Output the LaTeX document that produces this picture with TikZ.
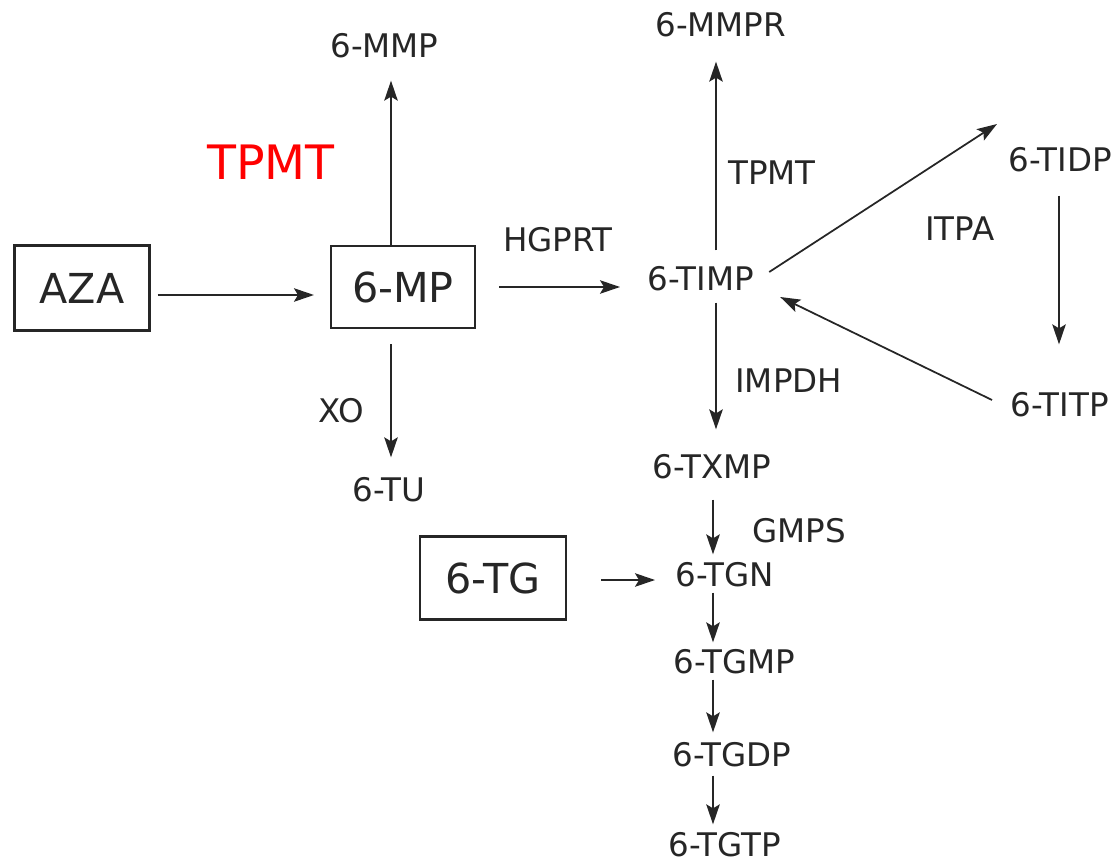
\documentclass[tikz,border=0pt]{standalone}
\usepackage{fontspec}
\setmainfont{DejaVu Sans}
\usetikzlibrary{arrows.meta}
\definecolor{inkgray}{RGB}{38, 38, 38}
\begin{document}
\begin{tikzpicture}[x=0.02cm, y=-0.02cm,
    lbl/.style={anchor=west, inner sep=0pt, text=inkgray, font=\fontsize{18.5}{20}\selectfont},
    drugbox/.style={draw=inkgray, line width=1.2pt, inner sep=0pt, text=inkgray, font=\fontsize{23.5}{26}\selectfont},
    arr/.style={draw=inkgray, line width=1pt, -{Stealth[length=0.4cm, width=0.27cm, inset=0.08cm]}}]
    \useasboundingbox (0,0) rectangle (1118,868);
    % drugs
    \node[drugbox, minimum width=2.7cm, minimum height=1.7cm] (aza) at (82,288) {AZA};
    \node[drugbox, minimum width=2.88cm, minimum height=1.64cm] (mp) at (403,287) {6-MP};
    \node[drugbox, minimum width=2.92cm, minimum height=1.66cm] (tg) at (493,578) {6-TG};
    % metabolites and enzymes
    \node[lbl] (mmp) at (330,46) {6-MMP};
    \node[anchor=west, inner sep=0pt, text=red, font=\fontsize{27}{30}\selectfont] (tpmtred) at (207,162) {TPMT};
    \node[lbl] (mmpr) at (655,25) {6-MMPR};
    \node[lbl] (tpmt) at (728,173) {TPMT};
    \node[lbl] (tidp) at (1008,160) {6-TIDP};
    \node[lbl] (itpa) at (925,229) {ITPA};
    \node[lbl] (hgprt) at (503,240) {HGPRT};
    \node[lbl] (timp) at (647,279) {6-TIMP};
    \node[lbl] (impdh) at (735,381) {IMPDH};
    \node[lbl] (titp) at (1010,405) {6-TITP};
    \node[lbl] (xo) at (318,411) {XO};
    \node[lbl] (tu) at (352,490) {6-TU};
    \node[lbl] (txmp) at (652,467) {6-TXMP};
    \node[lbl] (gmps) at (752,531) {GMPS};
    \node[lbl] (tgn) at (675,575) {6-TGN};
    \node[lbl] (tgmp) at (673,662) {6-TGMP};
    \node[lbl] (tgdp) at (672,755) {6-TGDP};
    \node[lbl] (tgtp) at (668,845) {6-TGTP};
    \coordinate (mpcol) at (391,0);
    \coordinate (timpcol) at (716,0);
    \coordinate (tidpcol) at (1059,0);
    \coordinate (chain) at (713,0);
    % arrows
    \draw[arr, shorten <=0.14cm, shorten >=0.32cm] ([yshift=-0.14cm]aza.east) -- ([yshift=-0.14cm]aza.east -| mp.west);
    \draw[arr, shorten >=0.44cm] (mp.north -| mpcol) -- (mmp.south -| mpcol);
    \draw[arr, shorten <=0.3cm, shorten >=0.4cm] (mp.south -| mpcol) -- (tu.north -| mpcol);
    \draw[arr, shorten <=0.46cm, shorten >=0.54cm] (mp.east) -- (mp.east -| timp.west);
    \draw[arr, shorten <=0.32cm, shorten >=0.48cm] (timp.north -| timpcol) -- (mmpr.south -| timpcol);
    \draw[arr, shorten <=0.22cm, shorten >=0.5cm] (timp.south -| timpcol) -- (txmp.north -| timpcol);
    \draw[arr] ([shift={(15,-7)}]timp.east) -- ([shift={(-11,-36)}]tidp.west);
    \draw[arr] ([shift={(-18,-5)}]titp.west) -- ([shift={(26,18)}]timp.east);
    \draw[arr, shorten <=0.46cm, shorten >=0.96cm] (tidp.south -| tidpcol) -- (titp.north -| tidpcol);
    \draw[arr, shorten <=0.4cm, shorten >=0.16cm] (txmp.south -| chain) -- (tgn.north -| chain);
    \draw[arr, shorten <=0.68cm, shorten >=0.4cm] ([yshift=-0.04cm]tg.east) -- ([yshift=-0.04cm]tg.east -| tgn.west);
    \draw[arr, shorten <=0.1cm, shorten >=0.14cm] (tgn.south -| chain) -- (tgmp.north -| chain);
    \draw[arr, shorten <=0.1cm, shorten >=0.2cm] (tgmp.south -| chain) -- (tgdp.north -| chain);
    \draw[arr, shorten <=0.16cm, shorten >=0.16cm] (tgdp.south -| chain) -- (tgtp.north -| chain);
\end{tikzpicture}
\end{document}
